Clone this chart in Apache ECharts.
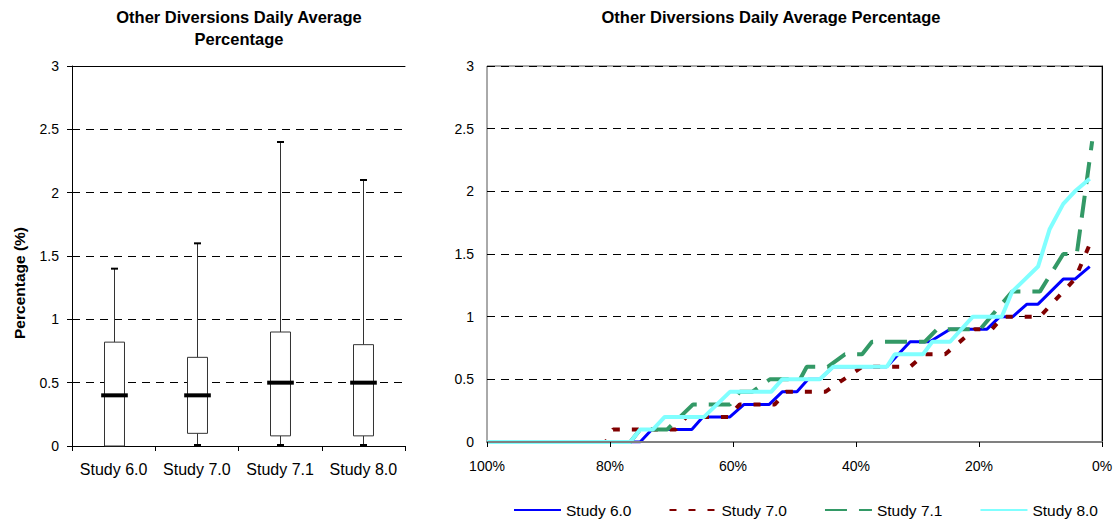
<!DOCTYPE html>
<html>
<head>
<meta charset="utf-8">
<script src="https://cdn.jsdelivr.net/npm/echarts@6/dist/echarts.min.js"></script>
<style>
html,body{margin:0;padding:0;background:#fff;}
#chart{width:1117px;height:523px;}
</style>
</head>
<body>
<div id="chart"></div>
<script>
// ---- Box plot data (left chart) ----
const boxCategories = ['Study 6.0', 'Study 7.0', 'Study 7.1', 'Study 8.0'];
const boxMin    = [0, 0, 0, 0];
const boxQ1     = [0.0, 0.1, 0.08, 0.08];
const boxMedian = [0.4, 0.4, 0.5, 0.5];
const boxQ3     = [0.82, 0.7, 0.9, 0.8];
const boxMax    = [1.4, 1.6, 2.4, 2.1];

// ---- Exceedance curves (right chart): exceedance % and value ----
const s60Pct = [100, 75.1, 73.2, 66.7, 64.9, 60.5, 58.2, 54.1, 52.0, 49.6, 47.8, 45.9, 43.7, 35.0, 31.2, 28.0, 24.7, 18.7, 16.6, 14.5, 12.2, 10.4, 6.3, 4.4, 2.0];
const s60Val = [0, 0, 0.1, 0.1, 0.2, 0.2, 0.3, 0.3, 0.4, 0.4, 0.5, 0.5, 0.6, 0.6, 0.8, 0.8, 0.9, 0.9, 1.0, 1.0, 1.1, 1.1, 1.3, 1.3, 1.4];

const s70Pct = [100, 80.7, 79.5, 69.3, 67.6, 60.8, 58.9, 53.2, 51.4, 45.0, 39.0, 31.2, 28.8, 25.5, 20.7, 17.9, 16.1, 10.1, 6.3, 4.4, 1.8];
const s70Val = [0, 0, 0.1, 0.1, 0.2, 0.2, 0.3, 0.3, 0.4, 0.4, 0.6, 0.6, 0.7, 0.7, 0.9, 0.9, 1.0, 1.0, 1.2, 1.3, 1.6];

const s71Pct = [100, 76.7, 75.1, 70.7, 66.5, 60.5, 58.9, 56.9, 54.0, 49.1, 48.0, 44.6, 41.8, 39.0, 37.4, 28.8, 26.8, 19.8, 14.6, 10.1, 6.3, 4.1, 1.6];
const s71Val = [0, 0, 0.1, 0.1, 0.3, 0.3, 0.4, 0.4, 0.5, 0.5, 0.6, 0.6, 0.7, 0.7, 0.8, 0.8, 0.9, 0.9, 1.2, 1.2, 1.5, 1.5, 2.4];

const s80Pct = [100, 76.7, 75.1, 73.0, 71.1, 64.7, 60.5, 53.8, 52.0, 45.9, 43.7, 35.0, 33.7, 29.1, 27.6, 24.7, 21.0, 16.3, 14.6, 12.5, 10.4, 8.5, 6.3, 4.4, 2.0];
const s80Val = [0, 0, 0.1, 0.1, 0.2, 0.2, 0.4, 0.4, 0.5, 0.5, 0.6, 0.6, 0.7, 0.7, 0.8, 0.8, 1.0, 1.0, 1.2, 1.3, 1.4, 1.7, 1.9, 2.0, 2.1];

const seriesNames = ['Study 6.0', 'Study 7.0', 'Study 7.1', 'Study 8.0'];
const yTicksMax = 3;
const yTickStep = 0.5;
const xTickStep = 20;

const FONT = '"Liberation Sans", Arial, sans-serif';
const chart = echarts.init(document.getElementById('chart'), null, {renderer: 'svg'});

function pairs(p, v) { return p.map((x, i) => [x, v[i]]); }

const boxData = boxCategories.map((c, i) => [i, boxMin[i], boxQ1[i], boxMedian[i], boxQ3[i], boxMax[i]]);

function renderBox(params, api) {
  const i = api.value(0);
  const pMin = api.coord([i, api.value(1)]);
  const pQ1 = api.coord([i, api.value(2)]);
  const pMed = api.coord([i, api.value(3)]);
  const pQ3 = api.coord([i, api.value(4)]);
  const pMax = api.coord([i, api.value(5)]);
  const band = api.size([1, 0])[0];
  const x = Math.round(pMed[0]) + 0.5;
  const bw = band * 0.24;
  const mw = band * 0.32;
  const cw = 7;
  const stroke = '#333';
  return {
    type: 'group',
    children: [
      {type: 'line', shape: {x1: x, y1: pMax[1], x2: x, y2: pQ3[1]}, style: {stroke: stroke, lineWidth: 1}},
      {type: 'line', shape: {x1: x, y1: pQ1[1], x2: x, y2: pMin[1]}, style: {stroke: stroke, lineWidth: 1}},
      {type: 'line', shape: {x1: x - cw / 2, y1: pMax[1], x2: x + cw / 2, y2: pMax[1]}, style: {stroke: '#000', lineWidth: 2}},
      {type: 'line', shape: {x1: x - cw / 2, y1: pMin[1] - 1, x2: x + cw / 2, y2: pMin[1] - 1}, style: {stroke: '#000', lineWidth: 2}},
      {type: 'rect', shape: {x: x - bw / 2, y: pQ3[1], width: bw, height: pQ1[1] - pQ3[1]}, style: {fill: '#fff', stroke: stroke, lineWidth: 1}},
      {type: 'line', shape: {x1: x - mw / 2, y1: pMed[1], x2: x + mw / 2, y2: pMed[1]}, style: {stroke: '#000', lineWidth: 4}}
    ]
  };
}

const gridLine = {show: true, lineStyle: {color: '#000', type: [8, 6], width: 1}};
const yLbl = {color: '#000', fontSize: 14, fontFamily: FONT};
const titleStyle = {fontSize: 16.5, fontWeight: 'bold', lineHeight: 22, color: '#000', fontFamily: FONT};

const option = {
  animation: false,
  textStyle: {fontFamily: FONT},
  title: [
    {text: 'Other Diversions Daily Average\nPercentage', left: 239, top: 6, padding: 0, textAlign: 'center', textStyle: titleStyle},
    {text: 'Other Diversions Daily Average Percentage', left: 771, top: 6, padding: 0, textAlign: 'center', textStyle: titleStyle}
  ],
  graphic: [
    {type: 'text', x: 11, y: 283, rotation: Math.PI / 2,
     style: {text: 'Percentage (%)', fill: '#000', font: 'bold 15.5px "Liberation Sans", Arial, sans-serif',
             align: 'center', verticalAlign: 'top'}}
  ],
  legend: {
    data: seriesNames,
    left: 513, top: 502, padding: 0,
    itemWidth: 47, itemHeight: 14, itemGap: 37,
    itemStyle: {opacity: 0},
    textStyle: {fontSize: 15.5, color: '#000', fontFamily: FONT}
  },
  grid: [
    {left: 72, top: 66, width: 333, height: 380, show: false},
    {left: 487, top: 66, width: 615, height: 376, show: true, borderColor: '#555', borderWidth: 1, backgroundColor: '#fff'}
  ],
  xAxis: [
    {type: 'category', gridIndex: 0, data: boxCategories, boundaryGap: true,
     axisLine: {lineStyle: {color: '#000', width: 1}},
     axisTick: {show: true, length: 5, lineStyle: {color: '#000'}},
     axisLabel: {interval: 0, margin: 15, color: '#000', fontSize: 16, fontFamily: FONT},
     splitLine: {show: false}},
    {type: 'value', gridIndex: 1, min: 0, max: 100, interval: xTickStep, inverse: true, z: 5,
     axisLine: {onZero: false, lineStyle: {color: '#808080', width: 2}},
     axisTick: {show: true, length: 5, lineStyle: {color: '#000'}},
     axisLabel: {margin: 17, formatter: '{value}%', color: '#000', fontSize: 14, fontFamily: FONT},
     splitLine: {show: false}},
    {type: 'category', gridIndex: 0, position: 'top', data: boxCategories,
     axisLine: {show: true, lineStyle: {color: '#000', width: 1}},
     axisTick: {show: false}, axisLabel: {show: false}, splitLine: {show: false}}
  ],
  yAxis: [
    {type: 'value', gridIndex: 0, min: 0, max: yTicksMax, interval: yTickStep,
     axisLine: {show: true, lineStyle: {color: '#000'}},
     axisTick: {show: true, length: 5, lineStyle: {color: '#000'}},
     axisLabel: Object.assign({margin: 13}, yLbl),
     splitLine: gridLine},
    {type: 'value', gridIndex: 1, min: 0, max: yTicksMax, interval: yTickStep,
     axisLine: {show: true, lineStyle: {color: '#000'}},
     axisTick: {show: true, length: 5, lineStyle: {color: '#000'}},
     axisLabel: Object.assign({margin: 13}, yLbl),
     splitLine: gridLine}
  ],
  series: [
    {type: 'custom', name: 'box', xAxisIndex: 0, yAxisIndex: 0, data: boxData,
     encode: {x: 0, y: [1, 2, 3, 4, 5]}, renderItem: renderBox, z: 3},
    {type: 'line', name: seriesNames[0], xAxisIndex: 1, yAxisIndex: 1, data: pairs(s60Pct, s60Val),
     symbol: 'none', clip: true, color: '#0000FF', lineStyle: {color: '#0000FF', width: 3}},
    {type: 'line', name: seriesNames[1], xAxisIndex: 1, yAxisIndex: 1, data: pairs(s70Pct, s70Val),
     symbol: 'none', clip: true, color: '#800000', lineStyle: {color: '#800000', width: 4, type: [7, 12], cap: 'butt'}},
    {type: 'line', name: seriesNames[2], xAxisIndex: 1, yAxisIndex: 1, data: pairs(s71Pct, s71Val),
     symbol: 'none', clip: true, color: '#339966', lineStyle: {color: '#339966', width: 4, type: [22, 12], cap: 'butt'}},
    {type: 'line', name: seriesNames[3], xAxisIndex: 1, yAxisIndex: 1, data: pairs(s80Pct, s80Val),
     symbol: 'none', clip: true, color: '#80FFFF', lineStyle: {color: '#80FFFF', width: 4}}
  ]
};
chart.setOption(option);
</script>
</body>
</html>
